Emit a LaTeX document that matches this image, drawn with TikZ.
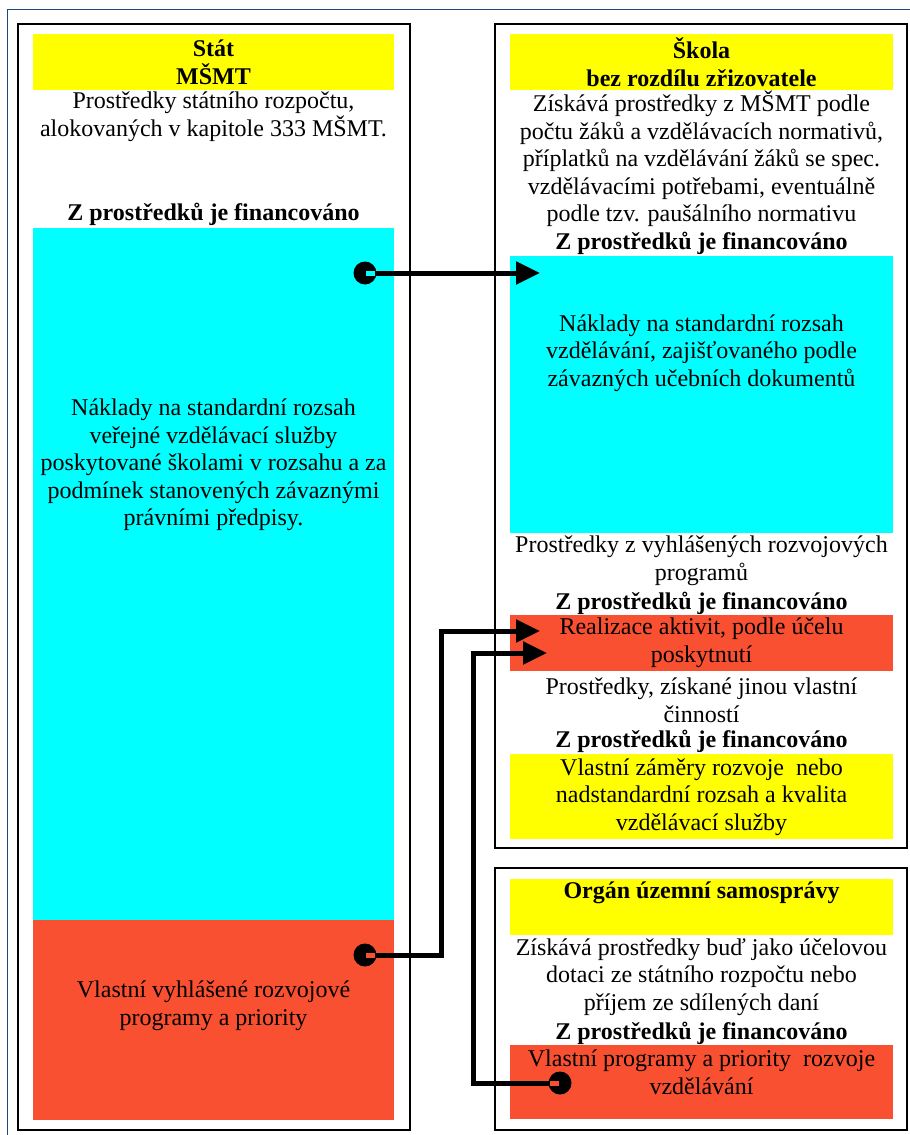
\documentclass[tikz,border=0pt]{standalone}
\usepackage{fontspec}
\setmainfont{Liberation Serif}
\usetikzlibrary{arrows.meta, positioning}
\definecolor{bandred}{RGB}{250,80,50}
\definecolor{bandcyan}{RGB}{0,255,255}
\definecolor{bandyellow}{RGB}{255,255,0}
\definecolor{framblue}{RGB}{31,73,125}
\tikzset{
  panel/.style={draw=black, line width=1.5pt},
  txt/.style={align=center, inner sep=0pt, font=\fontsize{24}{27.6}\selectfont},
  hd/.style={align=center, inner sep=0pt, font=\fontsize{24}{27.6}\selectfont\bfseries},
  flow/.style={line width=5pt, -{Triangle[length=24pt,width=22pt]}},
  dot/.style={circle, fill=black, minimum size=23pt, inner sep=0pt},
}
\begin{document}
\begin{tikzpicture}[x=1pt,y=-1pt]
  \useasboundingbox (0,0) rectangle (910,1135);
  \draw[framblue, line width=0.8pt] (7,1135) -- (7,9) -- (910,9);

  % panels
  \draw[panel] (18,24) rectangle (410,1130);
  \draw[panel] (495,24) rectangle (907,848);
  \draw[panel] (495,868) rectangle (907,1130);

  % coloured bands
  \fill[bandyellow] (33,34) rectangle (394,90);
  \fill[bandcyan] (33,228) rectangle (394,920);
  \fill[bandred] (33,920) rectangle (394,1120);
  \fill[bandyellow] (510,34) rectangle (893,90);
  \fill[bandcyan] (510,256) rectangle (893,533);
  \fill[bandred] (510,615) rectangle (893,671);
  \fill[bandyellow] (510,754) rectangle (893,839);
  \fill[bandyellow] (510,879) rectangle (893,935);
  \fill[bandred] (510,1045) rectangle (893,1119);

  % state
  \node[hd] (stat) at (213.5,62) {Stát\\MŠMT};
  \node[txt] (statsrc) at (213.5,117) {Prostředky státního rozpočtu,\\alokovaných v kapitole 333 MŠMT.};
  \node[hd] (statfin) at (213.5,214) {Z prostředků je financováno};
  \node[txt] (statcost) at (213.5,465) {Náklady na standardní rozsah\\veřejné vzdělávací služby\\poskytované školami v rozsahu a za\\podmínek stanovených závaznými\\právními předpisy.};
  \node[txt] (statprog) at (213.5,1006) {Vlastní vyhlášené rozvojové\\programy a priority};

  % school
  \node[hd] (skola) at (701.5,62) {Škola\\bez rozdílu zřizovatele};
  \node[txt] (skolasrc) at (701.5,159) {Získává prostředky z MŠMT podle\\počtu žáků a vzdělávacích normativů,\\příplatků na vzdělávání žáků se spec.\\vzdělávacími potřebami, eventuálně\\podle tzv. paušálního normativu};
  \node[hd] (skolafin) at (701.5,243) {Z prostředků je financováno};
  \node[txt] (skolacost) at (701.5,353) {Náklady na standardní rozsah\\vzdělávání, zajišťovaného podle\\závazných učebních dokumentů};
  \node[txt] (skoladev) at (701.5,561) {Prostředky z vyhlášených rozvojových\\programů};
  \node[hd] (skoladevfin) at (701.5,603) {Z prostředků je financováno};
  \node[txt] (skolaact) at (701.5,643) {Realizace aktivit, podle účelu\\poskytnutí};
  \node[txt] (skolaown) at (701.5,700) {Prostředky, získané jinou vlastní\\činností};
  \node[hd] (skolaownfin) at (701.5,741) {Z prostředků je financováno};
  \node[txt] (skolaplan) at (701.5,797) {Vlastní záměry rozvoje\ \ nebo\\nadstandardní rozsah a kvalita\\vzdělávací služby};

  % self-government
  \node[hd] (organ) at (701.5,893) {Orgán územní samosprávy};
  \node[txt] (organsrc) at (701.5,977) {Získává prostředky buď jako účelovou\\dotaci ze státního rozpočtu nebo\\příjem ze sdílených daní};
  \node[hd] (organfin) at (701.5,1033) {Z prostředků je financováno};
  \node[txt] (organprog) at (701.5,1072) {Vlastní programy a priority\ \ rozvoje\\vzdělávání};

  % arrows
  \node[dot] (s1) at (365,273) {};
  \coordinate (e1) at (540,273);
  \draw[flow] (s1.center) -- (e1);
  \fill[bandcyan] (366,271) rectangle (375,275.5);

  \node[dot] (s2) at (365,955) {};
  \coordinate (e2) at (540,631);
  \draw[flow] (s2.center) -- ++(76,0) |- (e2);
  \fill[bandred] (366,953) rectangle (375,957.5);

  \node[dot] (s3) at (560,1083) {};
  \coordinate (e3) at (547,653);
  \draw[flow] (s3.center) -- ++(-87,0) |- (e3);
  \fill[bandred] (550,1081) rectangle (559,1085.5);
\end{tikzpicture}
\end{document}
